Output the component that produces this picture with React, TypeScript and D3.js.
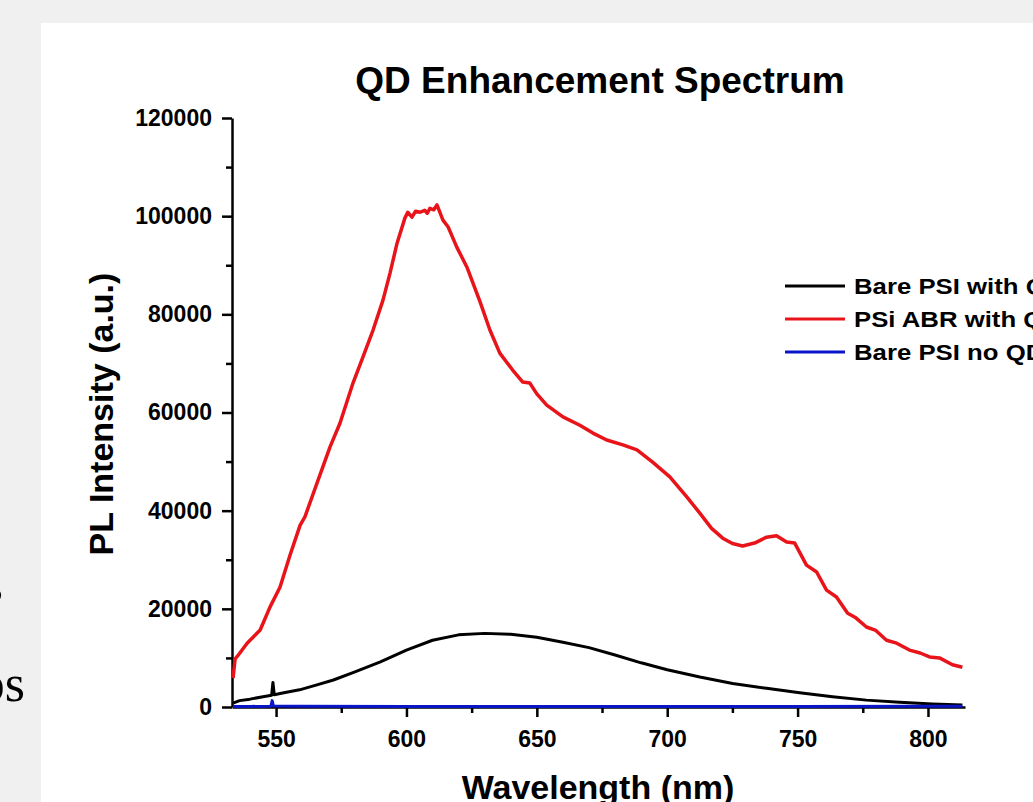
import { useEffect, useRef } from "react"
import * as d3 from "d3"

// wavelength (nm) / PL intensity (a.u.)
const bareWl = [533.5, 536, 540, 545, 548.3, 548.8, 549.3, 553, 559, 565, 572, 580, 590, 600, 610, 620, 630, 640, 650, 660, 670, 680, 690, 700, 712.5, 725.1, 738.1, 750.8, 763.4, 776.4, 789.1, 801.7, 813.2]
const bareQD = [800, 1300, 1600, 2100, 2400, 5000, 2500, 2900, 3500, 4400, 5500, 7100, 9200, 11600, 13600, 14700, 15000, 14800, 14200, 13200, 12100, 10600, 9000, 7600, 6100, 4800, 3800, 2900, 2100, 1400, 950, 600, 400]

const abrWl = [533.5, 534.3, 535.1, 538.9, 543.9, 547.7, 551.5, 555.4, 559.2, 561.1, 565.7, 570.7, 574.5, 579.5, 583.3, 587.2, 591, 593.7, 596.4, 599.4, 600.5, 602.1, 603.5, 605.2, 607, 608, 609, 610.5, 611.7, 614, 616, 619.3, 623.2, 628.2, 632, 635.8, 640.8, 644.6, 647.3, 650, 653.8, 660, 666.5, 671.5, 676.8, 683, 688.4, 694.4, 701, 707.5, 712.5, 717, 721.3, 725, 728.9, 733.5, 738.1, 741.9, 745.8, 748.9, 753.4, 757.3, 761.1, 764.9, 769.2, 772, 776.4, 780, 784.1, 788, 792.9, 797, 800.6, 804.4, 809.4, 813.2]
const abrQD = [5900, 9800, 10300, 13000, 15700, 20400, 24400, 31000, 37000, 38800, 45600, 53000, 57800, 66000, 71300, 76800, 82900, 88400, 94500, 99600, 100800, 99800, 101000, 100800, 101200, 100600, 101600, 101300, 102300, 99200, 97800, 93700, 89600, 82600, 76800, 72100, 68600, 66200, 66000, 63800, 61500, 59100, 57400, 55800, 54400, 53400, 52400, 49900, 46900, 42800, 39500, 36400, 34400, 33300, 32800, 33400, 34600, 34900, 33600, 33400, 28900, 27500, 23800, 22400, 19100, 18300, 16300, 15600, 13600, 13000, 11600, 11000, 10200, 10000, 8600, 8100]

const noQDWl = [533.5, 540, 548, 548.5, 549, 560, 600, 650, 700, 750, 800, 813.2]
const noQD = [100, 120, 150, 1300, 200, 150, 100, 100, 100, 120, 150, 150]

const xMajor = [550, 600, 650, 700, 750, 800]
const xMinor = [575, 625, 675, 725, 775]
const yMajor = [0, 20000, 40000, 60000, 80000, 100000, 120000]
const yMinor = [10000, 30000, 50000, 70000, 90000, 110000]

const seriesNames = ["Bare PSI with QDs", "PSi ABR with QDs", "Bare PSI no QDs"]
const seriesColors = ["#000000", "#e8141a", "#0a14c8"]

const font = "'Liberation Sans', Arial, sans-serif"

export default function App() {
    const ref = useRef<SVGSVGElement>(null)

    useEffect(() => {
        const svg = d3.select(ref.current)
        svg.selectAll("*").remove()

        const x = d3.scaleLinear().domain([533.1, 814.2]).range([232, 965])
        const y = d3.scaleLinear().domain([0, 120000]).range([707, 118])

        // page background + white panel
        svg.append("rect").attr("width", 1033).attr("height", 802).attr("fill", "#f0f0f0")
        svg.append("rect").attr("x", 41).attr("y", 23).attr("width", 992).attr("height", 779).attr("fill", "#ffffff")

        // cut-off document text on the left
        svg.append("text").attr("x", 3).attr("y", 602).attr("text-anchor", "end")
            .attr("font-family", "'Liberation Serif', serif").attr("font-size", 52).text("s")
        svg.append("text").attr("x", 25).attr("y", 701).attr("text-anchor", "end")
            .attr("font-family", "'Liberation Serif', serif").attr("font-size", 52).text("ps")

        // title
        svg.append("text").attr("x", 600).attr("y", 93).attr("text-anchor", "middle")
            .attr("font-family", font).attr("font-weight", "bold").attr("font-size", 37)
            .text("QD Enhancement Spectrum")

        const styleAxis = (g: any) => {
            g.selectAll("path,line").attr("stroke", "#000").attr("stroke-width", 2.5)
            g.selectAll("text").attr("font-family", font).attr("font-weight", "bold")
                .attr("font-size", 23).attr("fill", "#000")
        }

        svg.append("g").attr("transform", "translate(0,707)")
            .call(d3.axisBottom(x).tickValues(xMinor).tickSize(6).tickSizeOuter(0).tickFormat(() => ""))
            .call(g => g.select(".domain").remove())
            .call(styleAxis)
        svg.append("g").attr("transform", "translate(0,707)")
            .call(d3.axisBottom(x).tickValues(xMajor).tickSize(10).tickSizeOuter(0).tickPadding(14).tickFormat(d3.format("d")))
            .call(styleAxis)

        svg.append("g").attr("transform", "translate(232,0)")
            .call(d3.axisLeft(y).tickValues(yMinor).tickSize(6).tickSizeOuter(0).tickFormat(() => ""))
            .call(g => g.select(".domain").remove())
            .call(styleAxis)
        svg.append("g").attr("transform", "translate(232,0)")
            .call(d3.axisLeft(y).tickValues(yMajor).tickSize(10).tickSizeOuter(0).tickPadding(10).tickFormat(d3.format("d")))
            .call(styleAxis)

        // axis titles
        svg.append("text").attr("transform", "translate(113,414) rotate(-90)").attr("text-anchor", "middle")
            .attr("font-family", font).attr("font-weight", "bold").attr("font-size", 34)
            .text("PL Intensity (a.u.)")
        svg.append("text").attr("x", 598).attr("y", 799).attr("text-anchor", "middle")
            .attr("font-family", font).attr("font-weight", "bold").attr("font-size", 34)
            .text("Wavelength (nm)")

        // curves
        const line = d3.line<[number, number]>().x(d => x(d[0])).y(d => y(d[1]))
        const series: [number[], number[], number][] = [
            [bareWl, bareQD, 0],
            [abrWl, abrQD, 1],
            [noQDWl, noQD, 2],
        ]
        series.forEach(([wl, v, i]) => {
            svg.append("path")
                .attr("d", line(wl.map((w, k) => [w, v[k]] as [number, number])) || "")
                .attr("fill", "none")
                .attr("stroke", seriesColors[i])
                .attr("stroke-width", i === 1 ? 3.5 : 3)
                .attr("stroke-linejoin", "round")
        })

        // legend (text is a little wider in the original, hence the x stretch)
        const legend = svg.append("g").attr("transform", "translate(785,286)")
        seriesNames.forEach((name, i) => {
            const row = legend.append("g").attr("transform", `translate(0,${i * 33})`)
            row.append("line").attr("x1", 0).attr("x2", 60).attr("y1", 0).attr("y2", 0)
                .attr("stroke", seriesColors[i]).attr("stroke-width", 3)
            row.append("text").attr("transform", "translate(69,8) scale(1.12,1)")
                .attr("font-family", font).attr("font-weight", "bold").attr("font-size", 23)
                .text(name)
        })
    })

    return (
        <svg ref={ref} width={1033} height={802}
            style={{ position: "absolute", left: 0, top: 0, display: "block" }} />
    )
}
